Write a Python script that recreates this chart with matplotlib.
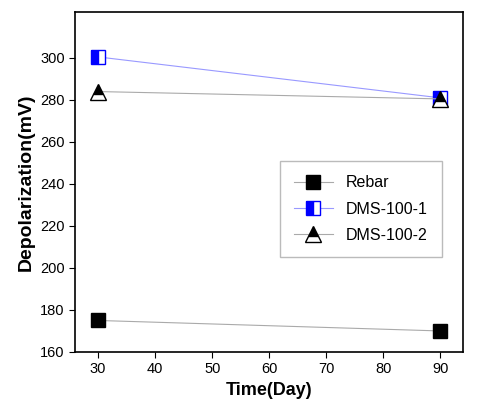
import matplotlib
matplotlib.use("Agg")
import matplotlib.pyplot as plt

days = [30, 90]
rebar = [175, 170]
dms1 = [300.5, 281]
dms2 = [284, 280.5]

plt.rcParams['font.family'] = ['Liberation Sans', 'DejaVu Sans']
fig = plt.figure(figsize=(4.79, 4.2), dpi=100)
ax = fig.add_axes([0.157, 0.162, 0.81, 0.81])
ax.plot(days, rebar, color='#aaaaaa', lw=0.8, marker='s', ms=10, mfc='black', mec='black', label='Rebar')
ax.plot(days, dms1, color='#9999ff', lw=0.8, marker='s', ms=10, fillstyle='left', mfc='blue', mfcalt='white', mec='blue', label='DMS-100-1')
ax.plot(days, dms2, color='#aaaaaa', lw=0.8, marker='^', ms=12, fillstyle='top', mfc='black', mfcalt='white', mec='black', label='DMS-100-2')
ax.set_xlim(26, 94)
ax.set_ylim(160, 322)
ax.set_xticks(range(30, 91, 10))
ax.set_yticks(range(160, 301, 20))
ax.tick_params(labelsize=10.5, direction='out', length=4)
ax.set_xlabel('Time(Day)', fontsize=13, fontweight='bold')
ax.set_ylabel('Depolarization(mV)', fontsize=14, fontweight='bold')
for s in ax.spines.values():
    s.set_linewidth(1.2)
leg = ax.legend(loc='center right', bbox_to_anchor=(0.965, 0.42), fontsize=11.5, frameon=True, fancybox=False, edgecolor='#aaaaaa', handlelength=2.4, borderpad=0.9, labelspacing=0.7)
fig.savefig('out.png', dpi=100)
